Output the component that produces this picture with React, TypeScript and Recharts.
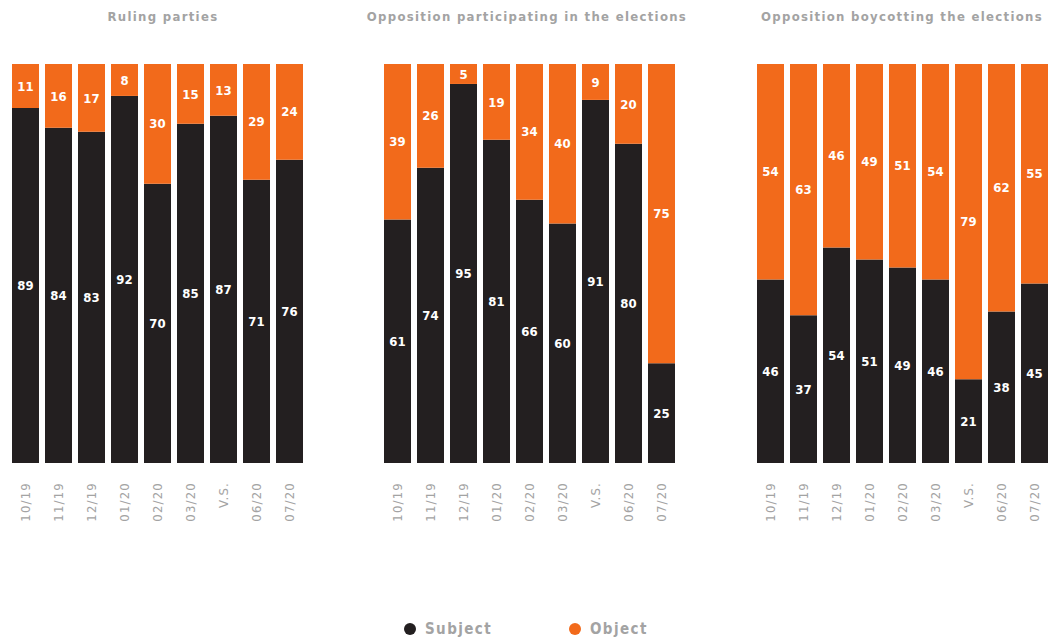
import { FC } from "react";
import { BarChart, Bar, XAxis, YAxis, LabelList } from "recharts";

// Survey waves (x-axis categories)
const waves = ["10/19", "11/19", "12/19", "01/20", "02/20", "03/20", "V.S.", "06/20", "07/20"];

// Ruling parties
const rulingSubject = [89, 84, 83, 92, 70, 85, 87, 71, 76];
const rulingObject = [11, 16, 17, 8, 30, 15, 13, 29, 24];

// Opposition participating in the elections
const participatingSubject = [61, 74, 95, 81, 66, 60, 91, 80, 25];
const participatingObject = [39, 26, 5, 19, 34, 40, 9, 20, 75];

// Opposition boycotting the elections
const boycottSubject = [46, 37, 54, 51, 49, 46, 21, 38, 45];
const boycottObject = [54, 63, 46, 49, 51, 54, 79, 62, 55];

const DARK = "#231f20";
const ORANGE = "#f26a1b";
const GREY = "#a3a3a3";
const FONT = "'DejaVu Sans Condensed', 'DejaVu Sans', sans-serif";

const toRows = (subject: number[], object: number[]) =>
  waves.map((wave, i) => ({ wave, subject: subject[i], object: object[i] }));

const WaveTick: FC<any> = ({ x, y, payload }) => (
  <text
    x={x}
    y={y + 11}
    transform={`rotate(-90 ${x} ${y + 11})`}
    textAnchor="end"
    dy="0.35em"
    fill={GREY}
    fontSize={13}
    letterSpacing={1.2}
    fontFamily={FONT}
  >
    {payload.value}
  </text>
);

type PanelProps = {
  title: string;
  titleCenter: number;
  left: number;
  subject: number[];
  object: number[];
};

const Panel: FC<PanelProps> = ({ title, titleCenter, left, subject, object }) => {
  const data = toRows(subject, object);
  return (
    <>
      <div
        style={{
          position: "absolute",
          left: titleCenter - 200,
          width: 400,
          top: 9,
          textAlign: "center",
          color: GREY,
          fontFamily: FONT,
          fontWeight: "bold",
          fontSize: 13,
          letterSpacing: 1.3,
        }}
      >
        {title}
      </div>
      <div style={{ position: "absolute", left, top: 0 }}>
        <BarChart
          width={297}
          height={560}
          data={data}
          margin={{ top: 64, right: 0, bottom: 37, left: 0 }}
          barCategoryGap={6}
        >
          <XAxis
            dataKey="wave"
            height={60}
            axisLine={false}
            tickLine={false}
            interval={0}
            tick={<WaveTick />}
          />
          <YAxis hide domain={[0, 100]} />
          <Bar dataKey="subject" stackId="a" fill={DARK} barSize={27} isAnimationActive={false}>
            <LabelList
              dataKey="subject"
              position="center"
              fill="#ffffff"
              fontSize={13}
              fontWeight="bold"
              fontFamily={FONT}
            />
          </Bar>
          <Bar dataKey="object" stackId="a" fill={ORANGE} barSize={27} isAnimationActive={false}>
            <LabelList
              dataKey="object"
              position="center"
              fill="#ffffff"
              fontSize={13}
              fontWeight="bold"
              fontFamily={FONT}
            />
          </Bar>
        </BarChart>
      </div>
    </>
  );
};

const LegendItem: FC<{ x: number; color: string; label: string }> = ({ x, color, label }) => (
  <div
    style={{
      position: "absolute",
      left: x - 6,
      top: 620,
      display: "flex",
      alignItems: "center",
      fontFamily: FONT,
      fontWeight: "bold",
      fontSize: 15,
      letterSpacing: 1.4,
      color: GREY,
    }}
  >
    <span
      style={{
        width: 12,
        height: 12,
        borderRadius: "50%",
        background: color,
        display: "inline-block",
        marginRight: 9,
      }}
    />
    {label}
  </div>
);

const App: FC = () => {
  return (
    <div
      style={{
        position: "absolute",
        left: 0,
        top: 0,
        width: 1048,
        height: 642,
        overflow: "hidden",
        background: "#ffffff",
      }}
    >
      <Panel
        title="Ruling parties"
        titleCenter={163}
        left={9}
        subject={rulingSubject}
        object={rulingObject}
      />
      <Panel
        title="Opposition participating in the elections"
        titleCenter={527}
        left={381}
        subject={participatingSubject}
        object={participatingObject}
      />
      <Panel
        title="Opposition boycotting the elections"
        titleCenter={902}
        left={754}
        subject={boycottSubject}
        object={boycottObject}
      />
      <LegendItem x={410} color={DARK} label="Subject" />
      <LegendItem x={575} color={ORANGE} label="Object" />
    </div>
  );
};

export default App;
